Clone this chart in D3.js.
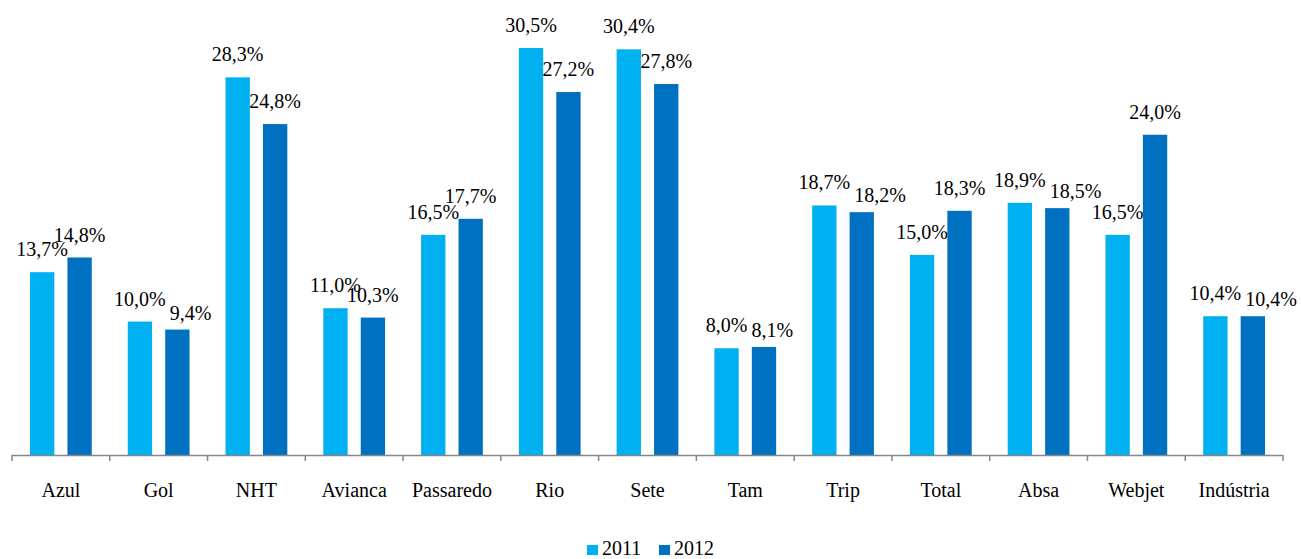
<!DOCTYPE html>
<html><head><meta charset="utf-8">
<script src="https://cdn.jsdelivr.net/npm/d3@7"></script>
<style>body{margin:0;background:#fff}svg{display:block}</style>
</head><body>
<svg id="c" width="1301" height="559"></svg>
<script>
const categories = ["Azul","Gol","NHT","Avianca","Passaredo","Rio","Sete","Tam","Trip","Total","Absa","Webjet","Indústria"];
const series2011 = [13.7,10.0,28.3,11.0,16.5,30.5,30.4,8.0,18.7,15.0,18.9,16.5,10.4];
const series2012 = [14.8,9.4,24.8,10.3,17.7,27.2,27.8,8.1,18.2,18.3,18.5,24.0,10.4];
const seriesNames = ["2011","2012"];
const colors = ["#00B0F0","#0070C0"];

const FONT = '"Liberation Serif"';
const svg = d3.select("#c");
const x = d3.scaleBand().domain(categories).range([12,1283]).paddingInner(0).paddingOuter(0);
const y = d3.scaleLinear().domain([0,30.5]).range([455,48]);
const inner = d3.scaleBand().domain(seriesNames).range([18, x.bandwidth()-18]).paddingInner(0.35);

function txt(sel){ return sel.style("font-family",FONT).style("font-size","20px").attr("fill","#000"); }

const data = categories.map((c,i)=>({c, vals:[series2011[i],series2012[i]]}));
const g = svg.append("g").selectAll("g").data(data).join("g")
  .attr("transform", d=>`translate(${x(d.c)},0)`);
g.selectAll("rect").data(d=>d.vals.map((v,k)=>({v,k}))).join("rect")
  .attr("x", d=>inner(seriesNames[d.k])).attr("width", inner.bandwidth())
  .attr("y", d=>y(d.v)).attr("height", d=>y(0)-y(d.v)).attr("fill", d=>colors[d.k]);
g.each(function(){
  const grp = d3.select(this);
  const labels = grp.selectAll("text").data(d=>d.vals.map((v,k)=>({v,k}))).join("text")
    .attr("x", d=>inner(seriesNames[d.k])+inner.bandwidth()/2)
    .attr("y", d=>y(d.v)-16).attr("text-anchor","middle")
    .text(d=>d.v.toFixed(1).replace(".",",")+"%");
  txt(labels);
  const nodes = labels.nodes();
  const a = nodes[0], b = nodes[1];
  const ya = +a.getAttribute("y"), yb = +b.getAttribute("y");
  if (Math.abs(ya-yb) < 9) {
    const wa = a.getComputedTextLength(), wb = b.getComputedTextLength();
    const rightA = +a.getAttribute("x") + wa/2;
    const leftB = +b.getAttribute("x") - wb/2;
    if (leftB < rightA + 4) {
      b.setAttribute("x", rightA + 4 + wb/2);
      b.setAttribute("y", yb + 6);
    }
  }
});

// axis
const ax = svg.append("g");
ax.append("line").attr("x1",12).attr("x2",1283).attr("y1",455.5).attr("y2",455.5).attr("stroke","#868686").attr("stroke-width",1.5);
const ticks = categories.map(c=>x(c)).concat([x.range()[1]]);
ax.selectAll("line.t").data(ticks).join("line").attr("class","t")
  .attr("x1",d=>d).attr("x2",d=>d).attr("y1",455).attr("y2",461).attr("stroke","#868686").attr("stroke-width",1.5);
txt(ax.selectAll("text").data(categories).join("text")
  .attr("x",d=>x(d)+x.bandwidth()/2).attr("y",497).attr("text-anchor","middle").text(d=>d));

// legend
const lg = svg.append("g");
const lx = [587,659];
seriesNames.forEach((s,k)=>{
  lg.append("rect").attr("x",lx[k]).attr("y",545).attr("width",11).attr("height",10).attr("fill",colors[k]);
  txt(lg.append("text").attr("x",lx[k]+15).attr("y",555).text(s));
});
</script>
</body></html>
